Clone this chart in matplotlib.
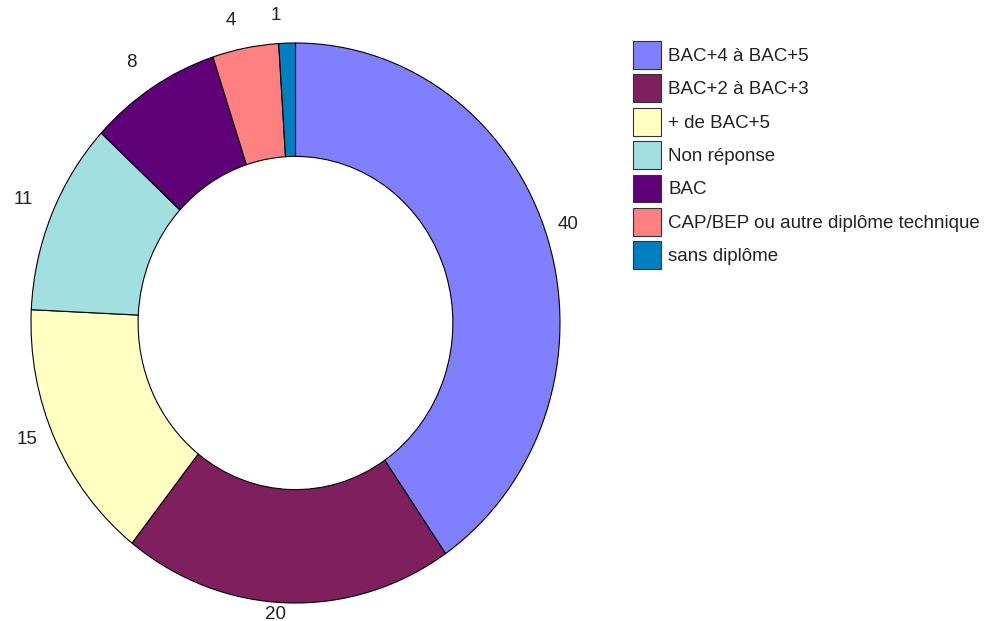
import numpy as np
import matplotlib
matplotlib.use("Agg")
import matplotlib.pyplot as plt
from matplotlib.patches import Patch

plt.rcParams['font.family'] = ['Liberation Sans', 'DejaVu Sans']

# data
categories = ["BAC+4 à BAC+5", "BAC+2 à BAC+3", "+ de BAC+5", "Non réponse",
              "BAC", "CAP/BEP ou autre diplôme technique", "sans diplôme"]
values = [40, 20, 15, 11, 8, 4, 1]
colors = ["#8080ff", "#801f5e", "#ffffc2", "#a2dfe0", "#600078", "#ff8080", "#0080c0"]

W, H = 984, 621
fig = plt.figure(figsize=(W / 100, H / 100), dpi=100)
fig.patch.set_facecolor("white")

# ring is a bit taller than wide in the original, so no equal aspect
ax = fig.add_axes([31 / W, 18 / H, 529 / W, 560 / H])
wedges, _ = ax.pie(values, colors=colors, startangle=90, counterclock=False,
                   radius=1, wedgeprops=dict(width=0.405, edgecolor="black", linewidth=0.8))
ax.set_aspect("auto")
ax.set_xlim(-1, 1)
ax.set_ylim(-1, 1)
ax.axis("off")

# value labels just outside the ring
for w, v in zip(wedges, values):
    a = np.deg2rad((w.theta1 + w.theta2) / 2)
    right = np.cos(a) > 0.5
    ax.annotate(str(v), xy=(1.07 * np.cos(a), 1.07 * np.sin(a)),
                xytext=(-8 if right else -11, 10 if right else 8), textcoords="offset pixels",
                ha="left" if right else "center", va="center", fontsize=13.5,
                color="#222222", annotation_clip=False)

handles = [Patch(facecolor=c, edgecolor="#333333", linewidth=0.8) for c in colors]
fig.legend(handles, categories, loc="upper left", bbox_to_anchor=(633 / W, 1 - 41 / H),
           frameon=False, fontsize=13.5, borderpad=0, borderaxespad=0,
           handlelength=1.5, handleheight=1.9, handletextpad=0.38, labelspacing=0.3,
           labelcolor="#222222")

fig.savefig("out.png", dpi=100)
